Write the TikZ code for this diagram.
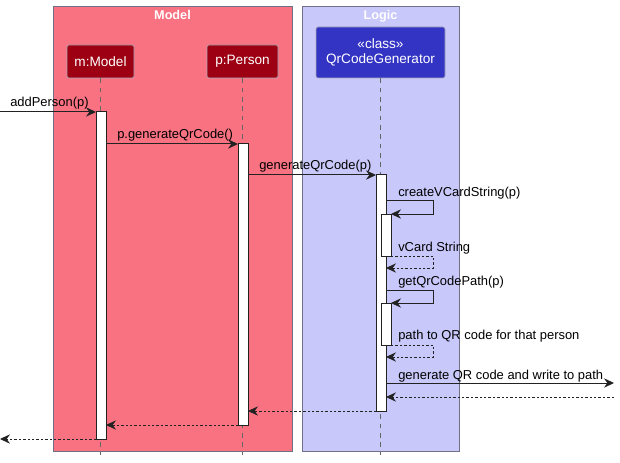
\documentclass[tikz,border=0pt]{standalone}
\usepackage{fontspec}
\setmainfont{Liberation Sans}
\usetikzlibrary{arrows.meta}
\definecolor{modelbg}{RGB}{249,114,129}
\definecolor{modelpart}{RGB}{157,0,18}
\definecolor{logicbg}{RGB}{200,200,250}
\definecolor{logicpart}{RGB}{51,51,196}
\definecolor{boxborder}{RGB}{112,112,135}
\definecolor{lineclr}{RGB}{34,34,34}
\begin{document}
\begin{tikzpicture}[x=0.75pt,y=-0.75pt,
  groupbox/.style={draw=boxborder,line width=0.6pt},
  grouptitle/.style={text=white,font=\bfseries\fontsize{9.5}{11}\selectfont,inner sep=0pt,anchor=base},
  part/.style={draw=boxborder!60,rounded corners=1.5pt,text=white,inner sep=0pt,
    font=\fontsize{10.2}{12.5}\selectfont,align=center,line width=0.5pt},
  life/.style={draw=gray!80!black,dash pattern=on 3.5pt off 3.5pt,line width=0.6pt},
  actbox/.style={draw=lineclr,fill=white,line width=0.75pt},
  msg/.style={draw=lineclr,line width=0.75pt,-{Stealth[length=7.5pt,width=7pt,inset=2.5pt]}},
  ret/.style={msg,dash pattern=on 1.8pt off 1.5pt},
  lbl/.style={font=\fontsize{9.7}{11}\selectfont,inner sep=0pt,anchor=base west,text=black}
]
\useasboundingbox (0,0) rectangle (620,463);

% groups
\filldraw[groupbox,fill=modelbg] (53,6) rectangle (292,451);
\filldraw[groupbox,fill=logicbg] (302,6) rectangle (459,451);
\node[grouptitle] (gm) at (172.5,20) {Model};
\node[grouptitle] (gl) at (380.5,20) {Logic};

% participants
\node[part,fill=modelpart,minimum width=50.25pt,minimum height=24.75pt] (m) at (100.5,61.5) {m:Model};
\node[part,fill=modelpart,minimum width=53.25pt,minimum height=24.75pt] (p) at (242.5,61.5) {p:Person};
\node[part,fill=logicpart,minimum width=96.75pt,minimum height=38.25pt] (q) at (380.5,52.5) {«class»\\[-1pt]QrCodeGenerator};

% lifelines
\coordinate (mend) at (100.5,455);
\coordinate (pend) at (242.5,455);
\coordinate (qend) at (380.5,455);
\draw[life] (m.south) -- (mend);
\draw[life] (p.south) -- (pend);
\draw[life] (q.south) -- (qend);

% activations
\filldraw[actbox] (96,112) coordinate (ma1) rectangle (106,439) coordinate (ma2);
\filldraw[actbox] (238,144) coordinate (pa1) rectangle (248,425) coordinate (pa2);
\filldraw[actbox] (376,175) coordinate (qa1) rectangle (386,411) coordinate (qa2);
\filldraw[actbox] (381,214) coordinate (qb1) rectangle (391,256) coordinate (qb2);
\filldraw[actbox] (381,303) coordinate (qc1) rectangle (391,345) coordinate (qc2);

% external points
\coordinate (inL) at (0,112);
\coordinate (outL) at (0,439);
\coordinate (extR) at (614,383);
\coordinate (extR2) at (614,397);

% messages
\draw[msg] (inL) -- (ma1);
\node[lbl] (l1) at (10,107) {addPerson(p)};

\draw[msg] (106,144) -- (pa1);
\node[lbl] (l2) at (117,139) {p.generateQrCode()};

\draw[msg] (248,175) -- (qa1);
\node[lbl] (l3) at (259,170) {generateQrCode(p)};

\draw[msg] (386,201) -- (433,201) -- (433,214) -- (qb1 -| qb2);
\node[lbl] (l4) at (398,196) {createVCardString(p)};

\draw[ret] (qb2) -- (433,256) -- (433,268) -- (386,268);
\node[lbl] (l5) at (398,251) {vCard String};

\draw[msg] (386,290) -- (433,290) -- (433,303) -- (qc1 -| qc2);
\node[lbl] (l6) at (398,285) {getQrCodePath(p)};

\draw[ret] (qc2) -- (433,345) -- (433,357) -- (386,357);
\node[lbl] (l7) at (398,339) {path to QR code for that person};

\draw[msg] (386,383) -- (extR);
\node[lbl] (l8) at (398,379) {generate QR code and write to path};

\draw[ret] (extR2) -- (386,397);
\draw[ret] (qa2 -| qa1) -- (pa2 |- qa2);
\draw[ret] (pa2 -| pa1) -- (ma2 |- pa2);
\draw[ret] (ma2 -| ma1) -- (outL);
\end{tikzpicture}
\end{document}
